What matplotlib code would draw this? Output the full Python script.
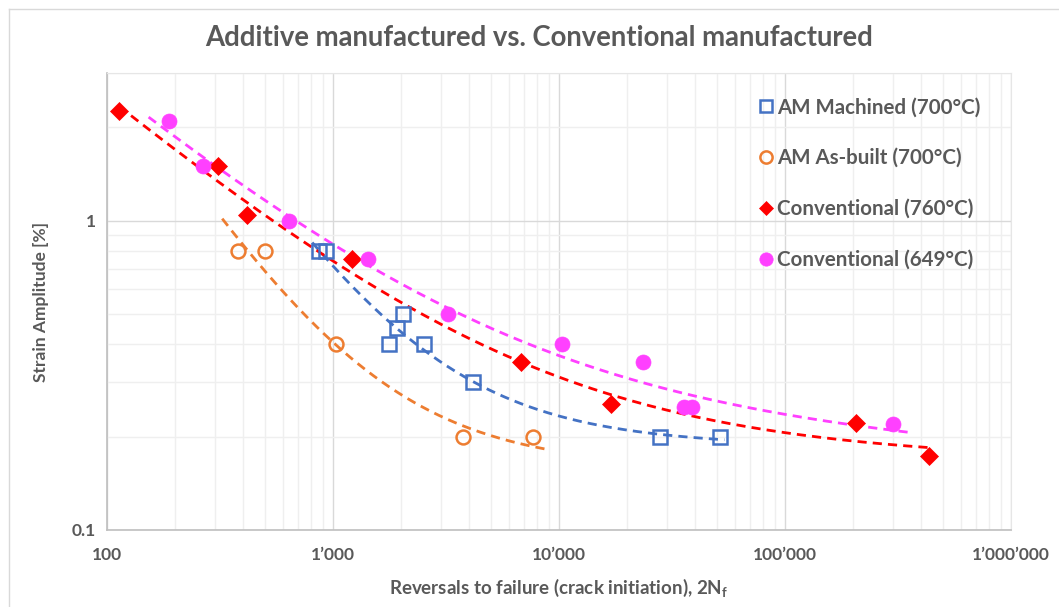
import matplotlib.pyplot as plt
import numpy as np
from matplotlib.lines import Line2D

# reversals to failure (2Nf) and strain amplitude [%] per test series
am_machined_n = [867, 931, 1770, 1920, 2040, 2530, 4160, 28000, 51500]
am_machined_eps = [0.8, 0.8, 0.4, 0.45, 0.5, 0.4, 0.3, 0.2, 0.2]

am_asbuilt_n = [380, 500, 1030, 3760, 7670]
am_asbuilt_eps = [0.8, 0.8, 0.4, 0.2, 0.2]

conv760_n = [113, 310, 416, 1213, 6790, 17000, 206000, 434000]
conv760_eps = [2.26, 1.5, 1.04, 0.75, 0.35, 0.255, 0.222, 0.173]

conv649_n = [188, 266, 638, 1430, 3230, 10300, 23500, 35800, 38800, 301000]
conv649_eps = [2.1, 1.5, 1.0, 0.75, 0.5, 0.4, 0.35, 0.25, 0.25, 0.22]

x_ticks = [100, 1000, 10000, 100000, 1000000]
x_tick_labels = ["100", "1\u2019000", "10\u2019000", "100\u2019000", "1\u2019000\u2019000"]
y_ticks = [0.1, 1]
y_tick_labels = ["0.1", "1"]

plt.rcParams['font.family'] = ['Lato', 'DejaVu Sans']
TXT = '#595959'

fig = plt.figure(figsize=(10.59, 6.07), dpi=100)
ax = fig.add_axes([107 / 1059, 1 - 530 / 607, (1011 - 107) / 1059, (530 - 73) / 607])


def coffin_manson(n, eps):
    # eps = A*n^b + B*n^c, exponents by grid search, A and B by least squares
    n, eps = np.asarray(n, float), np.asarray(eps, float)
    best = None
    for b in np.linspace(-0.3, -0.01, 59):
        for c in np.linspace(-1.6, -0.2, 71):
            if c >= b:
                continue
            M = np.column_stack([n ** b, n ** c]) / eps[:, None]
            (A, B), *_ = np.linalg.lstsq(M, np.ones_like(eps), rcond=None)
            if A <= 0 or B <= 0:
                continue
            err = np.sum((np.log10(A * n ** b + B * n ** c) - np.log10(eps)) ** 2)
            if best is None or err < best[0]:
                best = (err, A, b, B, c)
    _, A, b, B, c = best
    return lambda x: A * x ** b + B * x ** c


def trend(ax, n, eps, color, ext=(0.0, 0.0)):
    f = coffin_manson(n, eps)
    lx = np.log10(n)
    xs = 10 ** np.linspace(lx.min() - ext[0], lx.max() + ext[1], 200)
    ax.plot(xs, f(xs), color=color, lw=2.0, ls=(0, (3.3, 2.2)), zorder=2)


series = [
    (am_machined_n, am_machined_eps, '#4472C4', 's', 'none', 'AM Machined (700°C)', (0.03, 0.02)),
    (am_asbuilt_n, am_asbuilt_eps, '#ED7D31', 'o', 'none', 'AM As-built (700°C)', (0.07, 0.06)),
    (conv760_n, conv760_eps, '#FF0000', 'D', '#FF0000', 'Conventional (760°C)', (0.0, 0.01)),
    (conv649_n, conv649_eps, '#FF40FF', 'o', '#FF40FF', 'Conventional (649°C)', (0.09, 0.08)),
]

marker_size = {'s': 9.5, 'o': 10.0, 'D': 8.0}

handles = []
for n, eps, col, mk, fc, lab, ext in series:
    trend(ax, n, eps, col, ext)
    ms = marker_size[mk] + (0.8 if fc != 'none' else 0.0)
    mew = 1.8 if fc == 'none' else 0.5
    ax.plot(n, eps, ls='none', marker=mk, ms=ms, mfc=fc, mec=col, mew=mew, zorder=3)
    handles.append(Line2D([], [], ls='none', marker=mk, ms=ms - 1.2, mfc=fc,
                          mec=col, mew=mew, label=lab))

ax.set_xscale('log')
ax.set_yscale('log')
ax.set_xlim(100, 1e6)
ax.set_ylim(0.1, 3)

ax.set_xticks(x_ticks)
ax.set_xticklabels(x_tick_labels)
ax.set_yticks(y_ticks)
ax.set_yticklabels(y_tick_labels)
ax.yaxis.set_minor_formatter(plt.NullFormatter())
ax.xaxis.set_minor_formatter(plt.NullFormatter())
ax.tick_params(which='both', length=0)
ax.tick_params(axis='x', pad=12, labelsize=12.5, labelcolor=TXT)
ax.tick_params(axis='y', pad=8, labelsize=12.5, labelcolor=TXT)
for t in ax.get_xticklabels() + ax.get_yticklabels():
    t.set_fontweight('bold')

ax.grid(which='major', color='#d9d9d9', lw=1.0)
ax.grid(which='minor', color='#efefef', lw=1.0)
ax.set_axisbelow(True)
for side in ['top', 'right']:
    ax.spines[side].set_color('#e6e6e6')
for side in ['left', 'bottom']:
    ax.spines[side].set_color('#bfbfbf')
    ax.spines[side].set_linewidth(1.2)

ax.set_xlabel('Reversals to failure (crack initiation), 2N$_\\mathregular{f}$',
              fontsize=13.5, fontweight='bold', color=TXT, labelpad=10)
ax.set_ylabel('Strain Amplitude [%]', fontsize=12.5, fontweight='bold',
              color=TXT, labelpad=16)

fig.text(539 / 1059, 1 - 38 / 607, 'Additive manufactured vs. Conventional manufactured',
         ha='center', va='center', fontsize=19.8, fontweight='bold', color=TXT)

leg = fig.legend(handles=handles, loc='upper left',
                 bbox_to_anchor=(747 / 1059, 1 - 87 / 607), frameon=False,
                 handlelength=0.8, handletextpad=0.15, labelspacing=1.5,
                 borderpad=0, prop={'size': 14.8, 'weight': 'bold'})
for t in leg.get_texts():
    t.set_color(TXT)

# chart area border
fig.add_artist(Line2D([9 / 1059, 1], [1 - 9 / 607] * 2, transform=fig.transFigure,
                      color='#d9d9d9', lw=1.0))
fig.add_artist(Line2D([9 / 1059] * 2, [0, 1 - 9 / 607], transform=fig.transFigure,
                      color='#d9d9d9', lw=1.0))

fig.savefig('out.png', dpi=100)
